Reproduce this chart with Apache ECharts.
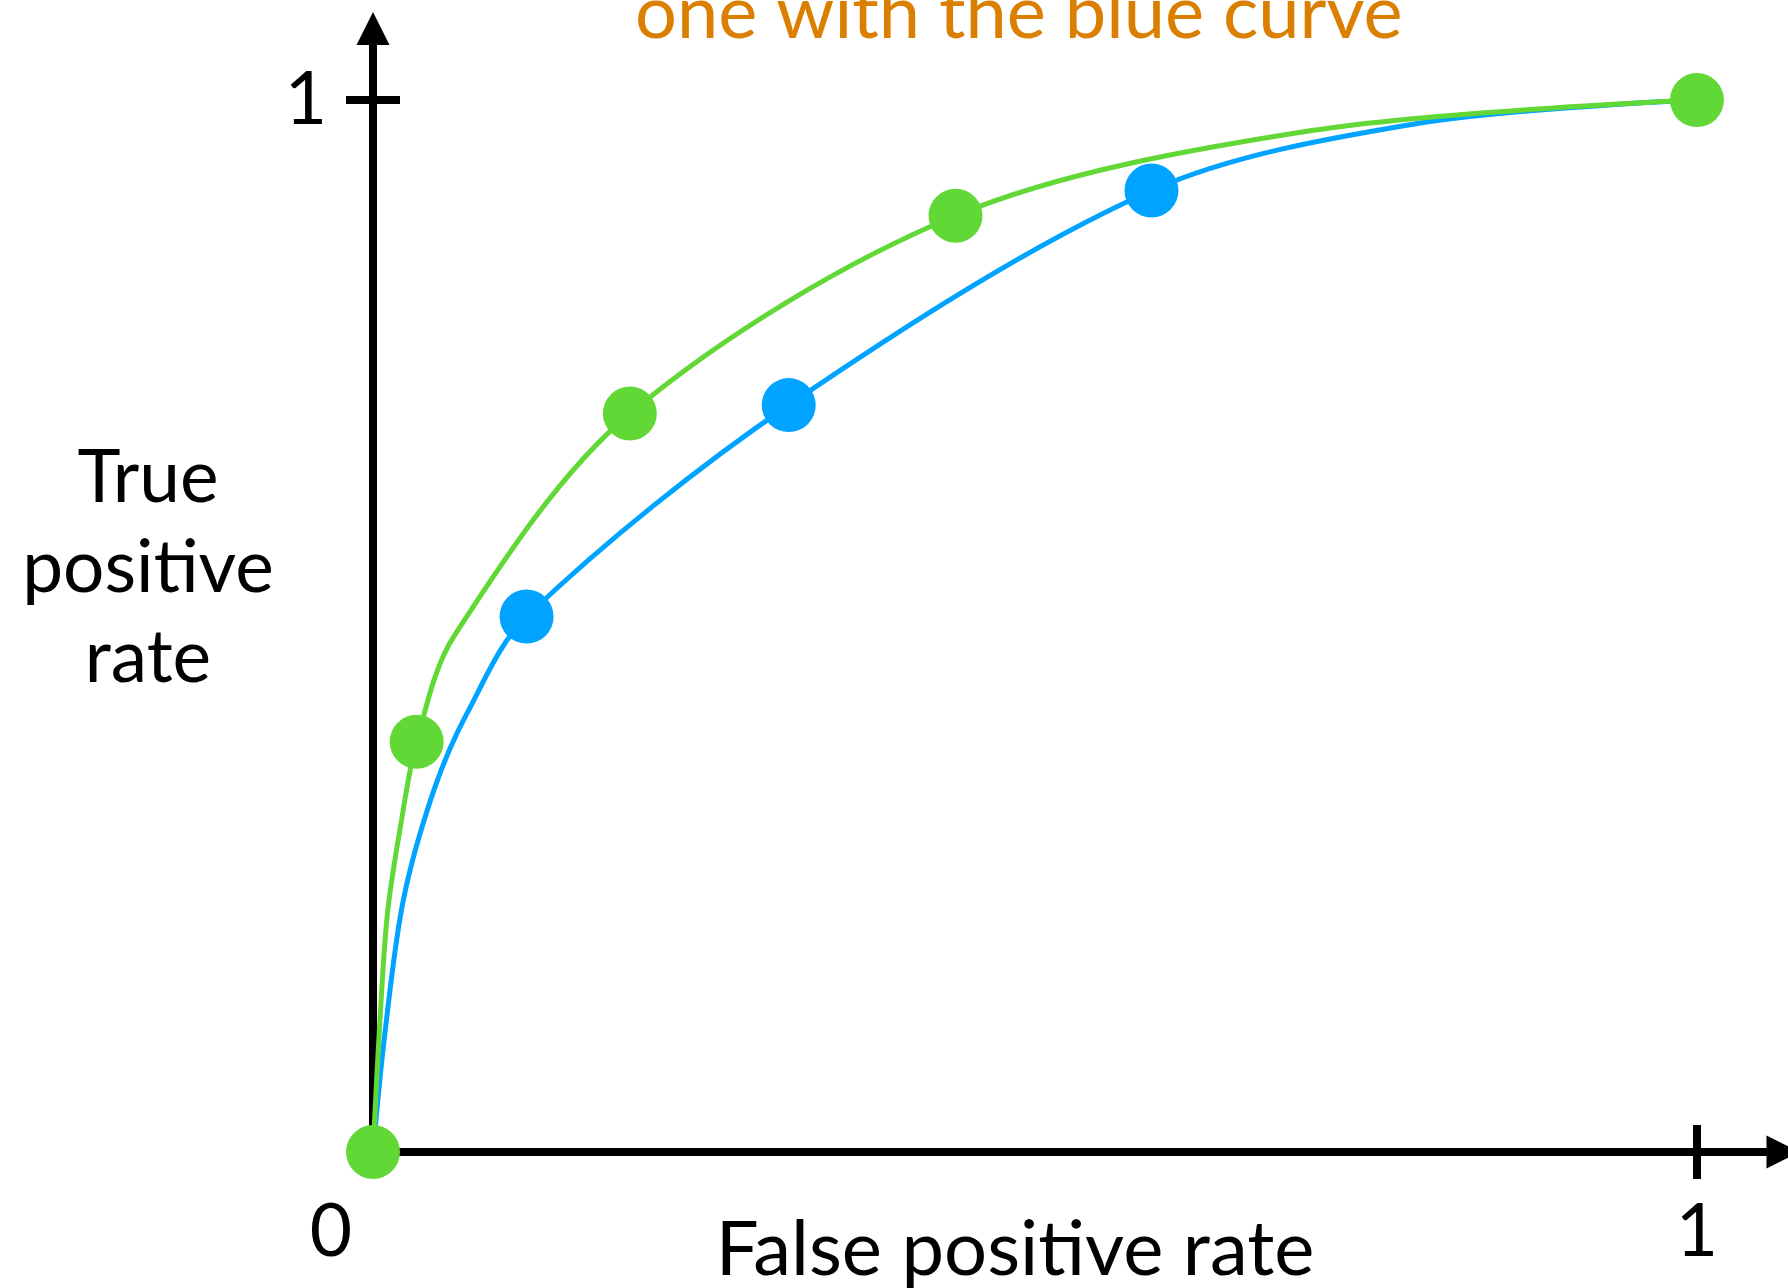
<!DOCTYPE html>
<html>
<head>
<meta charset="utf-8">
<script src="https://cdn.jsdelivr.net/npm/echarts@6/dist/echarts.min.js"></script>
<style>
html,body{margin:0;padding:0;background:#fff;}
#chart{width:1788px;height:1288px;}
</style>
</head>
<body>
<div id="chart"></div>
<script>
// ---- data ----
const titleText = 'one with the blue curve';
const xAxisName = 'False positive rate';
const yAxisName = 'True\npositive\nrate';
const xTickValues = [1];
const yTickValues = [1];
const xLabelValues = [0, 1];
const yLabelValues = [1];

// green ROC curve (traced points) and its marked thresholds
const greenCurve = [
  [0, 0], [0.005, 0.120], [0.011, 0.228], [0.0215, 0.315], [0.033, 0.390],
  [0.061, 0.490], [0.194, 0.702], [0.440, 0.890], [0.709, 0.971], [1, 1]
];
const greenDots = [[0, 0], [0.033, 0.390], [0.194, 0.702], [0.440, 0.890], [1, 1]];

// blue ROC curve (traced points) and its marked thresholds
const blueCurve = [
  [0, 0], [0.009, 0.113], [0.023, 0.240], [0.046, 0.344], [0.071, 0.417],
  [0.116, 0.509], [0.314, 0.710], [0.588, 0.914], [0.790, 0.978], [1, 1]
];
const blueDots = [[0.116, 0.509], [0.314, 0.710], [0.588, 0.914]];

// ---- styling ----
const GREEN = '#62D837';
const BLUE = '#00A3FF';
const ORANGE = '#DA7F00';
const FONT = 'Lato';
const FS = 73;
const X_MAX = 1.065;
const Y_MAX = 1.068;

const chart = echarts.init(document.getElementById('chart'), null, {renderer: 'canvas'});

const axisLineStyle = {color: '#000', width: 8};

const option = {
  animation: false,
  backgroundColor: '#fff',
  title: {
    text: titleText,
    left: 630,
    top: -27,
    textStyle: {fontFamily: FONT, fontSize: 74, fontWeight: 'normal', color: ORANGE, lineHeight: FS}
  },
  graphic: [
    {
      type: 'text', x: 148, y: 433,
      style: {
        text: yAxisName, fill: '#000', font: FS + 'px ' + FONT,
        align: 'center', verticalAlign: 'top', lineHeight: 90
      }
    }
  ],
  grid: {left: 373, right: 5, top: 28.5, bottom: 136, containLabel: false, outerBoundsMode: 'none'},
  xAxis: [
    {
      type: 'value', min: 0, max: X_MAX, position: 'bottom',
      name: xAxisName, nameLocation: 'middle', nameGap: 60, nameMoveOverlap: false,
      nameTextStyle: {fontFamily: FONT, fontSize: 76, color: '#000', padding: [0, 126, 0, 0], lineHeight: 76},
      splitLine: {show: false},
      axisLine: {show: true, onZero: false, lineStyle: axisLineStyle, symbol: ['none', 'triangle'], symbolSize: [33, 33]},
      axisTick: {show: true, inside: false, length: 27, lineStyle: {color: '#000', width: 8}, customValues: xTickValues},
      axisLabel: {
        show: true, margin: 44, customValues: xLabelValues,
        fontFamily: FONT, fontSize: FS, color: '#000', lineHeight: FS,
        formatter: function (v) { return v === 0 ? '{z|0}' : '{n|' + v + '}'; },
        rich: {
          z: {fontFamily: FONT, fontSize: FS, color: '#000', padding: [0, 84, 0, 0], lineHeight: FS},
          n: {fontFamily: FONT, fontSize: FS, color: '#000', lineHeight: FS}
        }
      }
    },
    {
      type: 'value', min: 0, max: X_MAX, position: 'bottom', offset: 0,
      splitLine: {show: false},
      axisLine: {show: false, onZero: false},
      axisTick: {show: true, inside: true, length: 27, lineStyle: {color: '#000', width: 8}, customValues: xTickValues},
      axisLabel: {show: false}
    }
  ],
  yAxis: [
    {
      type: 'value', min: 0, max: Y_MAX, position: 'left',
      splitLine: {show: false},
      axisLine: {show: true, onZero: false, lineStyle: axisLineStyle, symbol: ['none', 'triangle'], symbolSize: [33, 33]},
      axisTick: {show: true, inside: false, length: 27, lineStyle: {color: '#000', width: 8}, customValues: yTickValues},
      axisLabel: {show: true, margin: 46, customValues: yLabelValues, fontFamily: FONT, fontSize: FS, color: '#000', lineHeight: FS}
    },
    {
      type: 'value', min: 0, max: Y_MAX, position: 'left', offset: 0,
      splitLine: {show: false},
      axisLine: {show: false, onZero: false},
      axisTick: {show: true, inside: true, length: 27, lineStyle: {color: '#000', width: 8}, customValues: yTickValues},
      axisLabel: {show: false}
    }
  ],
  series: [
    {
      type: 'line', name: 'blue curve', data: blueCurve, xAxisIndex: 0, yAxisIndex: 0,
      smooth: 0.32, showSymbol: false, symbol: 'none',
      lineStyle: {color: BLUE, width: 5}, z: 2
    },
    {
      type: 'line', name: 'green curve', data: greenCurve, xAxisIndex: 0, yAxisIndex: 0,
      smooth: 0.32, showSymbol: false, symbol: 'none',
      lineStyle: {color: GREEN, width: 5}, z: 3
    },
    {
      type: 'scatter', name: 'blue points', data: blueDots, symbol: 'circle', symbolSize: 54,
      itemStyle: {color: BLUE, opacity: 1}, z: 4
    },
    {
      type: 'scatter', name: 'green points', data: greenDots, symbol: 'circle', symbolSize: 54,
      itemStyle: {color: GREEN, opacity: 1}, z: 5
    }
  ]
};
chart.setOption(option);
</script>
</body>
</html>
